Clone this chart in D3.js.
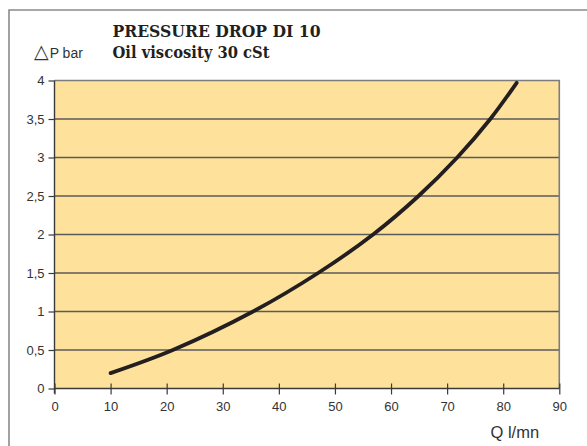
<!DOCTYPE html>
<html>
<head>
<meta charset="utf-8">
<script src="https://cdn.jsdelivr.net/npm/d3@7"></script>
<style>
  html, body { margin: 0; padding: 0; background: #fff; }
  svg { display: block; }
</style>
</head>
<body>
<svg id="chart" width="587" height="446"></svg>
<script>
// Pressure drop curve for DI 10, oil at 30 cSt
const flowRate = [10, 21.1, 35.4, 47.0, 56.8, 64.9, 71.8, 77.7, 82.4];   // Q, l/min
const pressureDrop = [0.2, 0.5, 1.0, 1.5, 2.0, 2.5, 3.0, 3.5, 3.97];   // ΔP, bar
const xTicks = [0, 10, 20, 30, 40, 50, 60, 70, 80, 90];
const yTicks = [0, 0.5, 1, 1.5, 2, 2.5, 3, 3.5, 4];
const titleLines = ["PRESSURE DROP DI 10", "Oil viscosity 30 cSt"];

const svg = d3.select("#chart");
const plot = { left: 54.5, right: 559.3, top: 80.5, bottom: 388.5 };

const x = d3.scaleLinear().domain([0, 90]).range([plot.left, plot.right]);
const y = d3.scaleLinear().domain([0, 4]).range([plot.bottom, plot.top]);

const sans = "'Liberation Sans', Arial, Helvetica, sans-serif";
const serif = "'DejaVu Serif', 'Liberation Serif', serif";

// outer frame (left and top edges)
svg.append("path")
  .attr("d", "M9,446 L9,10 L587,10")
  .attr("fill", "none").attr("stroke", "#8a8a8a").attr("stroke-width", 1.6);

// plot background
svg.append("rect")
  .attr("x", plot.left).attr("y", plot.top)
  .attr("width", plot.right - plot.left).attr("height", plot.bottom - plot.top)
  .attr("fill", "#fee19b");

// horizontal gridlines
svg.append("g").selectAll("line")
  .data(yTicks.filter(d => d > 0 && d < 4))
  .join("line")
  .attr("x1", plot.left).attr("x2", plot.right)
  .attr("y1", d => y(d)).attr("y2", d => y(d))
  .attr("stroke", "#5a5a5a").attr("stroke-width", 1.3);

// top and right borders of the plot
svg.append("path")
  .attr("d", `M${plot.left},${plot.top} L${plot.right},${plot.top} L${plot.right},${plot.bottom}`)
  .attr("fill", "none").attr("stroke", "#7d7d7d").attr("stroke-width", 1.6);

// y axis
const yAxis = d3.axisLeft(y).tickValues(yTicks).tickSize(6).tickPadding(4)
  .tickFormat(d => String(d).replace(".", ","));
const gy = svg.append("g").attr("transform", `translate(${plot.left},0)`).call(yAxis)
  .attr("font-size", 13).attr("font-family", sans);
gy.select(".domain").attr("stroke", "#3a3a3a").attr("stroke-width", 1.4)
  .attr("d", `M0,${plot.top}V${plot.bottom + 5}`);
gy.selectAll(".tick line").attr("stroke", "#3a3a3a").attr("stroke-width", 1.2);
gy.selectAll(".tick text").attr("fill", "#333");

// x axis
const xAxis = d3.axisBottom(x).tickValues(xTicks).tickSize(6).tickPadding(7);
const gx = svg.append("g").attr("transform", `translate(0,${plot.bottom})`).call(xAxis)
  .attr("font-size", 13).attr("font-family", sans);
gx.select(".domain").attr("stroke", "#3a3a3a").attr("stroke-width", 1.4)
  .attr("d", `M${plot.left},0H${plot.right}`);
gx.selectAll(".tick line").attr("stroke", "#3a3a3a").attr("stroke-width", 1.2).attr("y1", -5);
gx.selectAll(".tick text").attr("fill", "#333");

// pressure drop curve
const line = d3.line()
  .x((d, i) => x(flowRate[i]))
  .y(d => y(d))
  .curve(d3.curveCatmullRom.alpha(0.5));
svg.append("path")
  .datum(pressureDrop)
  .attr("d", line)
  .attr("fill", "none").attr("stroke", "#231f20")
  .attr("stroke-width", 3.8).attr("stroke-linecap", "round");

// titles
svg.append("text")
  .attr("x", 112.5).attr("y", 37.3)
  .attr("font-family", serif).attr("font-weight", "bold").attr("font-size", 16.5)
  .attr("textLength", 208).attr("lengthAdjust", "spacingAndGlyphs")
  .attr("fill", "#231f20").text(titleLines[0]);
svg.append("text")
  .attr("x", 112.5).attr("y", 57.7)
  .attr("font-family", serif).attr("font-weight", "bold").attr("font-size", 16.5)
  .attr("textLength", 157).attr("lengthAdjust", "spacingAndGlyphs")
  .attr("fill", "#231f20").text(titleLines[1]);

// axis titles
const yTitle = svg.append("text")
  .attr("x", 34).attr("y", 58.3)
  .attr("font-family", sans).attr("font-size", 14).attr("fill", "#333");
yTitle.append("tspan").attr("font-family", "'DejaVu Sans', sans-serif").attr("font-size", 19)
  .text("△");
yTitle.append("tspan").attr("dx", 1).text("P bar");
svg.append("text")
  .attr("x", 490.5).attr("y", 438.3)
  .attr("font-family", sans).attr("font-size", 16.5).attr("fill", "#333")
  .text("Q l/mn");
</script>
</body>
</html>
